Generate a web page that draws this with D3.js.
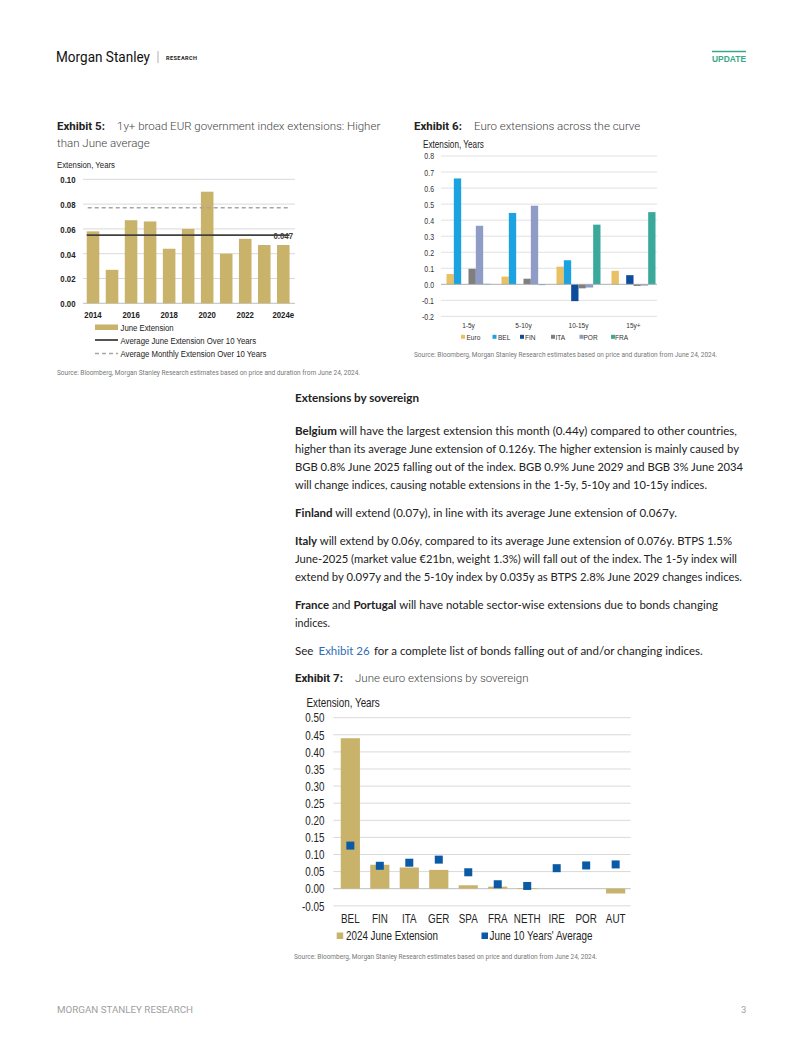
<!DOCTYPE html>
<html><head><meta charset="utf-8">
<script src="https://cdn.jsdelivr.net/npm/d3@7"></script>
<style>
html,body{margin:0;padding:0;background:#fff;}
svg{display:block;}
</style></head>
<body>
<svg id="page" width="802" height="1037"></svg>
<script>
// ---------- DATA ----------
// Exhibit 5
const ex5Years = ["2014","2015","2016","2017","2018","2019","2020","2021","2022","2023","2024e"];
const ex5Values = [0.058,0.027,0.067,0.066,0.044,0.060,0.090,0.040,0.052,0.047,0.047];
const ex5AvgJune = 0.055;
const ex5AvgMonthly = 0.077;
const ex5Ticks = [0,0.02,0.04,0.06,0.08,0.10];
const ex5TickLabels = ["2014","2016","2018","2020","2022","2024e"];
const ex5LastLabel = "0.047";

// Exhibit 6
const ex6Buckets = ["1-5y","5-10y","10-15y","15y+"];
const ex6Series = ["Euro","BEL","FIN","ITA","POR","FRA"];
const ex6Euro = [0.064,0.048,0.110,0.084];
const ex6BEL  = [0.660,0.445,0.150,0.000];
const ex6FIN  = [0.000,0.000,-0.105,0.057];
const ex6ITA  = [0.097,0.035,-0.025,-0.010];
const ex6POR  = [0.365,0.490,-0.020,-0.008];
const ex6FRA  = [0.003,-0.005,0.372,0.450];
const ex6Ticks = [-0.2,-0.1,0,0.1,0.2,0.3,0.4,0.5,0.6,0.7,0.8];

// Exhibit 7
const ex7Countries = ["BEL","FIN","ITA","GER","SPA","FRA","NETH","IRE","POR","AUT"];
const ex7June2024 = [0.440,0.070,0.062,0.055,0.010,0.006,0.002,0.000,0.000,-0.014];
const ex7TenYrAvg = [0.126,0.067,0.076,0.085,0.048,0.013,0.008,0.060,0.068,0.071];
const ex7Ticks = [-0.05,0,0.05,0.10,0.15,0.20,0.25,0.30,0.35,0.40,0.45,0.50];

// ---------- STYLE ----------
const GOLD = "#c9b26a";
const NARROW = "'Liberation Sans',Arial,sans-serif";   // condensed via horizontal scale
const SX = 0.82;
const BODY = "Lato,'Noto Sans',sans-serif";
const TITLE = "Roboto,'Noto Sans',sans-serif";
const GRID = "#d9d9d9";

const svg = d3.select("#page");

function ctext(parent, x, y, str, size, opts={}){
  const g = parent.append("g").attr("transform",`translate(${x},${y}) scale(${SX},1)`);
  const t = g.append("text").attr("font-family",NARROW).attr("font-size",size)
    .attr("fill",opts.fill||"#222").text(str);
  if(opts.anchor) t.attr("text-anchor",opts.anchor);
  if(opts.weight) t.attr("font-weight",opts.weight);
  return t;
}
function styleAxisText(sel, size, opts={}){
  sel.selectAll("text").attr("font-family",NARROW).attr("font-size",size)
    .attr("fill",opts.fill||"#222").attr("font-weight",opts.weight||"normal")
    .attr("transform",`scale(${SX},1)`);
}
const hy = f => d => f(d).replace("\u2212","-");

// ---------- HEADER / FOOTER ----------
svg.append("text").attr("x",56).attr("y",62).attr("font-family","Roboto,sans-serif")
  .attr("font-size",15).attr("fill","#111").attr("textLength",94).attr("lengthAdjust","spacingAndGlyphs").text("Morgan Stanley");
svg.append("line").attr("x1",158).attr("x2",158).attr("y1",51).attr("y2",63).attr("stroke","#999").attr("stroke-width",0.8);
svg.append("text").attr("x",166).attr("y",60).attr("font-family",TITLE).attr("font-weight","bold")
  .attr("font-size",5.6).attr("fill","#222").attr("letter-spacing","0.4").text("RESEARCH");
svg.append("line").attr("x1",712).attr("x2",746).attr("y1",51.5).attr("y2",51.5).attr("stroke","#3aa886").attr("stroke-width",1.6);
svg.append("text").attr("x",712).attr("y",62).attr("font-family",NARROW).attr("font-weight","bold")
  .attr("font-size",9.5).attr("fill","#3aa886").attr("textLength",34).attr("lengthAdjust","spacingAndGlyphs").text("UPDATE");
svg.append("text").attr("x",57).attr("y",1013).attr("font-family",TITLE)
  .attr("font-size",9.5).attr("fill","#a0a0a0").attr("textLength",136).attr("lengthAdjust","spacingAndGlyphs").text("MORGAN STANLEY RESEARCH");
svg.append("text").attr("x",741).attr("y",1013).attr("font-family",TITLE)
  .attr("font-size",9.5).attr("fill","#a0a0a0").text("3");

function exhibitTitle(x, y, label, lines, gapX){
  const t = svg.append("text").attr("x",x).attr("y",y).attr("font-family",TITLE).attr("font-size",11.5);
  t.append("tspan").attr("font-weight","bold").attr("fill","#222").text(label);
  t.append("tspan").attr("x",x+gapX).attr("fill","#444").attr("font-weight","300").text(lines[0]);
  if(lines[1]) svg.append("text").attr("x",x).attr("y",y+17).attr("font-family",TITLE)
      .attr("font-size",11.5).attr("fill","#444").attr("font-weight","300").text(lines[1]);
}
function source(x,y){
  svg.append("text").attr("x",x).attr("y",y).attr("font-family",TITLE).attr("font-size",6.5)
    .attr("fill","#777").text("Source: Bloomberg, Morgan Stanley Research estimates based on price and duration from June 24, 2024.");
}

// ---------- EXHIBIT 5 ----------
(function(){
  exhibitTitle(57,130,"Exhibit 5:",["1y+ broad EUR government index extensions: Higher","than June average"],60);
  ctext(svg,57,167.5,"Extension, Years",9.5);
  const g = svg.append("g");
  const y = d3.scaleLinear().domain([0,0.10]).range([303.3,179.3]);
  const x = d3.scaleBand().domain(ex5Years).range([83.5,292.8]).paddingInner(0.34).paddingOuter(0.17);
  g.selectAll(".grid").data(ex5Ticks).join("line").attr("x1",83).attr("x2",295)
    .attr("y1",d=>y(d)).attr("y2",d=>y(d)).attr("stroke",d=>d===0?"#bfbfbf":GRID).attr("stroke-width",1);
  const yAxis = d3.axisLeft(y).tickValues(ex5Ticks).tickFormat(hy(d3.format(".2f"))).tickSize(0).tickPadding(0);
  const ya = g.append("g").attr("transform","translate(75.5,0)").call(yAxis);
  ya.select(".domain").remove();
  styleAxisText(ya,9.5,{weight:"bold"});
  ya.selectAll("text").attr("dy","0.35em");
  g.selectAll(".bar").data(ex5Values).join("rect")
    .attr("x",(d,i)=>x(ex5Years[i])).attr("width",x.bandwidth())
    .attr("y",d=>y(d)).attr("height",d=>y(0)-y(d)).attr("fill",GOLD);
  const xAxis = d3.axisBottom(x).tickValues(ex5TickLabels).tickSize(0).tickPadding(0);
  const xa = g.append("g").attr("transform","translate(0,311)").call(xAxis);
  xa.select(".domain").remove();
  styleAxisText(xa,9.5,{weight:"bold"});
  xa.selectAll("text").attr("dy","0.71em");
  const x0 = x(ex5Years[0]), x1 = x(ex5Years[ex5Years.length-1])+x.bandwidth();
  g.append("line").attr("x1",x0+1).attr("x2",x1+1).attr("y1",y(ex5AvgMonthly)).attr("y2",y(ex5AvgMonthly))
    .attr("stroke","#a6a6a6").attr("stroke-width",1.6).attr("stroke-dasharray","4,3");
  g.append("line").attr("x1",x0).attr("x2",x1).attr("y1",y(ex5AvgJune)).attr("y2",y(ex5AvgJune))
    .attr("stroke","#404040").attr("stroke-width",1.8);
  ctext(g,293,y(ex5AvgJune)+4,ex5LastLabel,9.5,{anchor:"end",fill:"#404040",weight:"bold"});
  // legend
  const lg = g.append("g");
  lg.append("rect").attr("x",95).attr("y",324.5).attr("width",23).attr("height",5.5).attr("fill",GOLD);
  ctext(lg,120.5,330.5,"June Extension",9.5);
  lg.append("line").attr("x1",95).attr("x2",118).attr("y1",340).attr("y2",340).attr("stroke","#404040").attr("stroke-width",1.8);
  ctext(lg,120.5,343.5,"Average June Extension Over 10 Years",9.5);
  lg.append("line").attr("x1",95).attr("x2",118).attr("y1",353.5).attr("y2",353.5).attr("stroke","#a6a6a6").attr("stroke-width",1.6).attr("stroke-dasharray","4,3");
  ctext(lg,120.5,357,"Average Monthly Extension Over 10 Years",9.5);
  source(57,375);
})();

// ---------- EXHIBIT 6 ----------
(function(){
  exhibitTitle(414,130,"Exhibit 6:",["Euro extensions across the curve"],60);
  ctext(svg,423,148,"Extension, Years",10);
  const colors = {Euro:"#e9c063",BEL:"#1aa3e0",FIN:"#0e4d9c",ITA:"#7f7f7f",POR:"#8e9cc6",FRA:"#3aa99b"};
  const vals = {Euro:ex6Euro,BEL:ex6BEL,FIN:ex6FIN,ITA:ex6ITA,POR:ex6POR,FRA:ex6FRA};
  const g = svg.append("g");
  const y = d3.scaleLinear().domain([-0.2,0.8]).range([316.4,156]);
  const x = d3.scaleBand().domain(ex6Buckets).range([441,661]).paddingInner(0.2).paddingOuter(0.1);
  const xs = d3.scaleBand().domain(ex6Series).range([0,x.bandwidth()]);
  g.selectAll(".grid").data(ex6Ticks.filter(d=>d!==0)).join("line").attr("x1",441).attr("x2",657)
    .attr("y1",d=>y(d)).attr("y2",d=>y(d)).attr("stroke",GRID).attr("stroke-width",0.8);
  const yAxis = d3.axisLeft(y).tickValues(ex6Ticks).tickFormat(hy(d3.format(".1f"))).tickSize(0).tickPadding(0);
  const ya = g.append("g").attr("transform","translate(434,0)").call(yAxis);
  ya.select(".domain").remove();
  styleAxisText(ya,8.5,{fill:"#333"});
  ya.selectAll("text").attr("dy","0.35em");
  ex6Series.forEach(s=>{
    g.append("g").selectAll("rect").data(vals[s]).join("rect")
      .attr("x",(d,i)=>x(ex6Buckets[i])+xs(s)).attr("width",xs.bandwidth())
      .attr("y",d=>y(Math.max(0,d))).attr("height",d=>Math.abs(y(d)-y(0)))
      .attr("fill",colors[s]);
  });
  g.append("line").attr("x1",441).attr("x2",657).attr("y1",y(0)).attr("y2",y(0)).attr("stroke","#a6a6a6").attr("stroke-width",0.9);
  const xa = g.append("g").attr("transform","translate(0,322.5)").call(d3.axisBottom(x).tickSize(0).tickPadding(0));
  xa.select(".domain").remove();
  styleAxisText(xa,8,{fill:"#333"});
  xa.selectAll("text").attr("dy","0.71em");
  const legX = {Euro:[461,466.5],BEL:[492.5,498],FIN:[520,525],ITA:[551,555.5],POR:[579.5,583.5],FRA:[611,615]};
  const lg = g.append("g");
  ex6Series.forEach(s=>{
    lg.append("rect").attr("x",legX[s][0]).attr("y",334.8).attr("width",4).attr("height",4).attr("fill",colors[s]);
    ctext(lg,legX[s][1],339.6,s,8,{fill:"#333"});
  });
  source(414,357);
})();

// ---------- BODY TEXT ----------
(function(){
  const tg = svg.append("g").attr("font-family",BODY).attr("font-size",11.5).attr("fill","#222");
  tg.append("text").attr("x",295).attr("y",402).attr("font-weight","bold").attr("font-size",11.2)
    .attr("textLength",124).attr("lengthAdjust","spacingAndGlyphs").text("Extensions by sovereign");
  const lines = [
    {y:435, w:442, parts:[["Belgium",1]," will have the largest extension this month (0.44y) compared to other countries,"]},
    {y:453, w:444, parts:["higher than its average June extension of 0.126y. The higher extension is mainly caused by"]},
    {y:471, w:448, parts:["BGB 0.8% June 2025 falling out of the index. BGB 0.9% June 2029 and BGB 3% June 2034"]},
    {y:489, w:412, parts:["will change indices, causing notable extensions in the 1-5y, 5-10y and 10-15y indices."]},
    {y:517, w:382, parts:[["Finland",1]," will extend (0.07y), in line with its average June extension of 0.067y."]},
    {y:545, w:437, parts:[["Italy",1]," will extend by 0.06y, compared to its average June extension of 0.076y. BTPS 1.5%"]},
    {y:563, w:442, parts:["June-2025 (market value €21bn, weight 1.3%) will fall out of the index. The 1-5y index will"]},
    {y:581, w:447, parts:["extend by 0.097y and the 5-10y index by 0.035y as BTPS 2.8% June 2029 changes indices."]},
    {y:609, w:423, parts:[["France",1]," and ",["Portugal",1]," will have notable sector-wise extensions due to bonds changing"]},
    {y:627, w:35, parts:["indices."]},
  ];
  lines.forEach(l=>{
    const t = tg.append("text").attr("x",295).attr("y",l.y).attr("textLength",l.w).attr("lengthAdjust","spacingAndGlyphs");
    l.parts.forEach(p=>{
      if(Array.isArray(p)) t.append("tspan").attr("font-weight","bold").text(p[0]);
      else t.append("tspan").text(p);
    });
  });
  const t = tg.append("text").attr("x",295).attr("y",655);
  t.append("tspan").text("See");
  t.append("tspan").attr("x",318.5).attr("fill","#2f6db5").text("Exhibit 26");
  t.append("tspan").attr("x",374).text("for a complete list of bonds falling out of and/or changing indices.");
})();

// ---------- EXHIBIT 7 ----------
(function(){
  exhibitTitle(295,682,"Exhibit 7:",["June euro extensions by sovereign"],60);
  ctext(svg,306.5,707,"Extension, Years",12);
  const g = svg.append("g");
  const y = d3.scaleLinear().domain([-0.05,0.5]).range([905.8,717.7]);
  const x = d3.scaleBand().domain(ex7Countries).range([335.6,630.4]).paddingInner(0.35).paddingOuter(0.175);
  g.selectAll(".grid").data(ex7Ticks).join("line").attr("x1",333.3).attr("x2",630.7)
    .attr("y1",d=>y(d)).attr("y2",d=>y(d)).attr("stroke",d=>d===0?"#bdbdbd":GRID).attr("stroke-width",1);
  const yAxis = d3.axisLeft(y).tickValues(ex7Ticks).tickFormat(hy(d3.format(".2f"))).tickSize(0).tickPadding(0);
  const ya = g.append("g").attr("transform","translate(324.5,0)").call(yAxis);
  ya.select(".domain").remove();
  styleAxisText(ya,12);
  ya.selectAll("text").attr("dy","0.35em");
  g.selectAll(".bar").data(ex7June2024).join("rect")
    .attr("x",(d,i)=>x(ex7Countries[i])).attr("width",x.bandwidth())
    .attr("y",d=>y(Math.max(0,d))).attr("height",d=>Math.abs(y(d)-y(0))).attr("fill",GOLD);
  const ms = 8;
  g.selectAll(".mk").data(ex7TenYrAvg).join("rect")
    .attr("x",(d,i)=>x(ex7Countries[i])+x.bandwidth()/2-ms/2).attr("y",d=>y(d)-ms/2)
    .attr("width",ms).attr("height",ms).attr("fill","#0b5aa6");
  const xa = g.append("g").attr("transform","translate(0,914.5)").call(d3.axisBottom(x).tickSize(0).tickPadding(0));
  xa.select(".domain").remove();
  styleAxisText(xa,12);
  xa.selectAll("text").attr("dy","0.71em");
  const lg = g.append("g");
  lg.append("rect").attr("x",336.7).attr("y",932.5).attr("width",6.5).attr("height",6.5).attr("fill",GOLD);
  ctext(lg,346,940,"2024 June Extension",12);
  lg.append("rect").attr("x",481.5).attr("y",932.5).attr("width",6.5).attr("height",6.5).attr("fill","#0b5aa6");
  ctext(lg,489.5,940,"June 10 Years' Average",12);
  source(294,959);
})();
</script>
</body></html>
